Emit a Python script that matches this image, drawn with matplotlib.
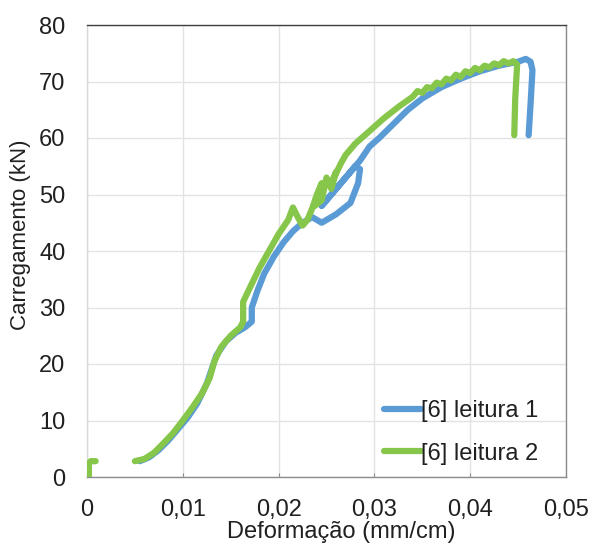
import numpy as np
import matplotlib
matplotlib.use("Agg")
import matplotlib.pyplot as plt

plt.rcParams['font.family'] = ['Liberation Sans', 'DejaVu Sans']

# Series 1: [6] leitura 1 (blue)
def_1 = [0.0055, 0.0065, 0.0075, 0.0085, 0.0095, 0.0105, 0.0115, 0.0125, 0.0130, 0.0135,
         0.0145, 0.0155, 0.0165, 0.0172, 0.0172, 0.0178, 0.0185, 0.0195, 0.0205, 0.0215,
         0.0225, 0.0235, 0.0240, 0.0245, 0.0260, 0.0275, 0.0283, 0.0285, 0.0280, 0.0265,
         0.0250, 0.0245, 0.0255, 0.0270, 0.0285, 0.0295, 0.0305, 0.0320, 0.0335, 0.0350,
         0.0370, 0.0390, 0.0410, 0.0430, 0.0450, 0.0458, 0.0463, 0.0465, 0.0463, 0.0461]
load_1 = [2.8, 3.5, 4.8, 6.5, 8.5, 10.5, 13.0, 16.5, 19.0, 21.5,
          24.0, 25.5, 26.5, 27.5, 30.0, 33.0, 36.0, 39.0, 41.5, 43.5,
          45.0, 46.0, 45.5, 45.0, 46.5, 48.5, 52.0, 54.5, 55.0, 52.0,
          49.0, 48.0, 50.0, 53.0, 56.0, 58.5, 60.0, 62.5, 65.0, 67.0,
          69.0, 70.5, 71.8, 72.8, 73.5, 74.0, 73.5, 72.0, 66.0, 60.5]

# Series 2: [6] leitura 2 (green) - initial short segment, then main curve
def_2a = [0.0002, 0.0002, 0.0004, 0.0009]
load_2a = [0.0, 2.5, 2.8, 2.8]
def_2 = [0.0050, 0.0060, 0.0070, 0.0080, 0.0090, 0.0100, 0.0110, 0.0120, 0.0128, 0.0133,
         0.0140, 0.0150, 0.0160, 0.0163, 0.0163, 0.0170, 0.0180, 0.0190, 0.0200, 0.0210,
         0.0215, 0.0220, 0.0225, 0.0230, 0.0235, 0.0240, 0.0245, 0.0238, 0.0245, 0.0250,
         0.0255, 0.0260, 0.0255, 0.0265, 0.0270, 0.0280, 0.0290, 0.0300, 0.0310, 0.0325,
         0.0340, 0.0345, 0.0350, 0.0355, 0.0360, 0.0365, 0.0370, 0.0375, 0.0380, 0.0385,
         0.0390, 0.0395, 0.0400, 0.0405, 0.0410, 0.0415, 0.0420, 0.0425, 0.0430, 0.0435,
         0.0440, 0.0445, 0.0449, 0.0447, 0.0446]
load_2 = [2.8, 3.2, 4.3, 6.0, 7.8, 10.0, 12.3, 14.8, 17.5, 20.5,
          23.0, 25.0, 26.5, 27.5, 31.0, 33.5, 37.0, 40.0, 43.0, 45.5,
          47.7, 46.0, 44.5, 45.5, 47.5, 50.0, 52.0, 48.0, 49.0, 53.0,
          51.0, 54.0, 52.0, 55.5, 57.0, 59.0, 60.5, 62.0, 63.5, 65.5,
          67.3, 68.3, 68.0, 69.0, 68.8, 69.8, 69.5, 70.5, 70.2, 71.2,
          70.8, 71.8, 71.5, 72.4, 72.0, 72.8, 72.5, 73.2, 72.9, 73.6,
          73.2, 73.6, 73.0, 67.0, 60.5]

x_ticks = [0, 0.01, 0.02, 0.03, 0.04, 0.05]
x_tick_labels = ['0', '0,01', '0,02', '0,03', '0,04', '0,05']
y_ticks = [0, 10, 20, 30, 40, 50, 60, 70, 80]

blue = '#5B9BD5'
green = '#86C64A'
lw = 4.5

fig = plt.figure(figsize=(5.92, 5.51), dpi=100)
ax = fig.add_axes([87/592, 1 - 477/551, (566 - 87)/592, (477 - 25)/551])

ax.plot(def_1, load_1, color=blue, lw=lw, solid_joinstyle='round', solid_capstyle='round',
        label='[6] leitura 1', zorder=3)
ax.plot(def_2a, load_2a, color=green, lw=lw, solid_joinstyle='round', solid_capstyle='round', zorder=4)
ax.plot(def_2, load_2, color=green, lw=lw, solid_joinstyle='round', solid_capstyle='round',
        label='[6] leitura 2', zorder=4)

ax.set_xlim(0, 0.05)
ax.set_ylim(0, 80)
ax.set_xticks(x_ticks)
ax.set_xticklabels(x_tick_labels)
ax.set_yticks(y_ticks)
ax.grid(True, color='#e3e3e3', lw=1)
ax.set_axisbelow(True)

ax.spines['top'].set_color('#404040')
ax.spines['right'].set_color('#8c8c8c')
ax.spines['bottom'].set_color('#8c8c8c')
ax.spines['left'].set_color('#d9d9d9')
for s in ax.spines.values():
    s.set_linewidth(1)

ax.tick_params(axis='x', length=3, direction='in', color='#8c8c8c', pad=16, labelsize=17, labelcolor='#202020')
ax.tick_params(axis='y', length=0, pad=15.5, labelsize=17, labelcolor='#202020')

ax.set_xlabel('Deformação (mm/cm)', fontsize=17, color='#202020')
ax.set_ylabel('Carregamento (kN)', fontsize=16, color='#202020')
ax.xaxis.set_label_coords((341 - 87)/479, -(521 - 477)/452)
ax.yaxis.set_label_coords(-(87 - 21)/479, (477 - 235)/452)
ax.xaxis.label.set_va('top')
ax.yaxis.label.set_va('center')

leg = ax.legend(loc='lower right', bbox_to_anchor=((548 - 87)/479, (477 - 474)/452),
                frameon=False, fontsize=17, handlelength=1.6,
                handletextpad=0.0, labelspacing=0.85, borderaxespad=0.0)
for t in leg.get_texts():
    t.set_color('#202020')

fig.savefig('out.png', dpi=100)
